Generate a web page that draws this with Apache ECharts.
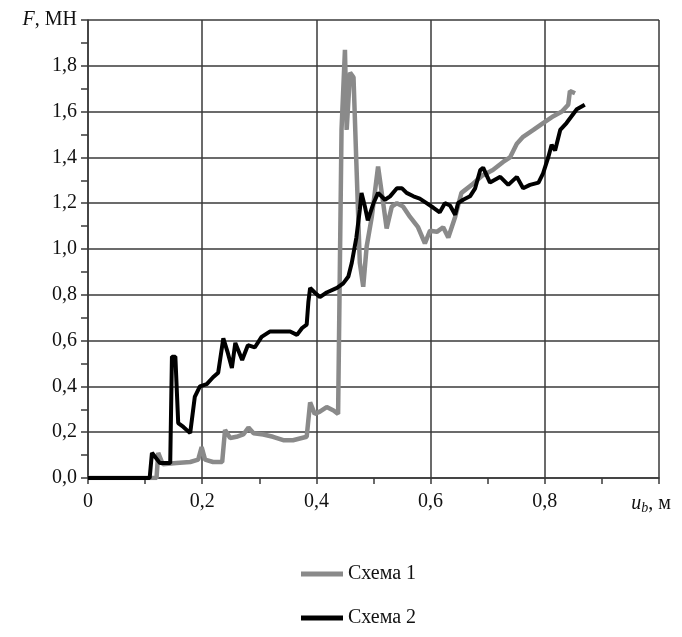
<!DOCTYPE html>
<html>
<head>
<meta charset="utf-8">
<script src="https://cdn.jsdelivr.net/npm/echarts@6/dist/echarts.min.js"></script>
<style>html,body{margin:0;padding:0;background:#fff}#c{width:682px;height:637px}</style>
</head>
<body>
<div id="c"></div>
<script>
// Схема 1 (gray)
const s1x = [0, 0.12, 0.123, 0.131, 0.155, 0.179, 0.193, 0.199, 0.205, 0.219, 0.235, 0.24, 0.249, 0.26, 0.272, 0.281, 0.29, 0.307, 0.324, 0.342, 0.359, 0.383, 0.389, 0.397, 0.406, 0.418, 0.43, 0.438, 0.441, 0.444, 0.45, 0.453, 0.459, 0.465, 0.47, 0.476, 0.482, 0.488, 0.497, 0.508, 0.517, 0.523, 0.532, 0.541, 0.552, 0.564, 0.578, 0.59, 0.599, 0.611, 0.622, 0.631, 0.643, 0.654, 0.672, 0.69, 0.709, 0.727, 0.739, 0.751, 0.762, 0.78, 0.797, 0.815, 0.83, 0.841, 0.844, 0.853];
const s1y = [0, 0, 0.11, 0.06, 0.065, 0.07, 0.08, 0.135, 0.08, 0.07, 0.07, 0.21, 0.175, 0.18, 0.19, 0.22, 0.195, 0.19, 0.18, 0.165, 0.165, 0.18, 0.33, 0.28, 0.29, 0.31, 0.295, 0.28, 0.9, 1.52, 1.87, 1.52, 1.77, 1.75, 1.375, 0.94, 0.835, 1.01, 1.14, 1.36, 1.2, 1.09, 1.185, 1.2, 1.185, 1.14, 1.095, 1.025, 1.08, 1.075, 1.095, 1.05, 1.14, 1.245, 1.28, 1.32, 1.345, 1.38, 1.4, 1.46, 1.49, 1.52, 1.55, 1.58, 1.6, 1.63, 1.69, 1.68];
// Схема 2 (black)
const s2x = [0, 0.108, 0.112, 0.126, 0.144, 0.147, 0.153, 0.158, 0.167, 0.179, 0.187, 0.196, 0.208, 0.219, 0.228, 0.237, 0.245, 0.252, 0.258, 0.27, 0.28, 0.292, 0.304, 0.319, 0.336, 0.354, 0.366, 0.375, 0.383, 0.386, 0.389, 0.397, 0.406, 0.418, 0.436, 0.447, 0.456, 0.462, 0.47, 0.476, 0.479, 0.485, 0.49, 0.5, 0.508, 0.52, 0.529, 0.541, 0.55, 0.558, 0.57, 0.581, 0.593, 0.605, 0.616, 0.625, 0.634, 0.643, 0.648, 0.657, 0.669, 0.678, 0.687, 0.692, 0.704, 0.722, 0.736, 0.751, 0.762, 0.774, 0.789, 0.797, 0.806, 0.812, 0.818, 0.827, 0.838, 0.856, 0.87];
const s2y = [0, 0, 0.11, 0.065, 0.065, 0.53, 0.53, 0.24, 0.223, 0.196, 0.354, 0.40, 0.41, 0.44, 0.46, 0.61, 0.545, 0.48, 0.59, 0.515, 0.58, 0.57, 0.616, 0.64, 0.64, 0.64, 0.625, 0.655, 0.67, 0.77, 0.83, 0.81, 0.79, 0.81, 0.83, 0.85, 0.88, 0.94, 1.05, 1.17, 1.245, 1.185, 1.125, 1.2, 1.245, 1.215, 1.23, 1.265, 1.265, 1.245, 1.23, 1.22, 1.2, 1.18, 1.16, 1.2, 1.19, 1.15, 1.2, 1.215, 1.23, 1.265, 1.345, 1.355, 1.29, 1.315, 1.28, 1.315, 1.265, 1.28, 1.29, 1.33, 1.4, 1.455, 1.43, 1.52, 1.55, 1.61, 1.63];
const seriesNames = ['Схема 1', 'Схема 2'];
const yAxisTitle = ['F', ', МН'];
const xAxisTitle = ['u', 'b', ', м'];

const FONT = '"Liberation Serif", "DejaVu Serif", serif';
const FS = 20;
const zip = (xs, ys) => xs.map((x, i) => [x, ys[i]]);
const lineCol = '#3a3a3a';

const chart = echarts.init(document.getElementById('c'));
chart.setOption({
  animation: false,
  backgroundColor: '#fff',
  grid: { left: 88, right: 23, top: 20, bottom: 159, containLabel: false },
  xAxis: {
    type: 'value', min: 0, max: 1, interval: 0.2,
    axisLine: { show: true, onZero: false, lineStyle: { color: lineCol, width: 1.5 } },
    axisTick: { show: true, inside: false, length: 6, lineStyle: { color: lineCol, width: 1.5 } },
    minorTick: { show: true, splitNumber: 2, length: 6, lineStyle: { color: lineCol, width: 1.5 } },
    splitLine: { show: true, lineStyle: { color: lineCol, width: 1.5 } },
    axisLabel: {
      margin: 14, color: '#111', fontFamily: FONT, fontSize: FS,
      formatter: v => {
        if (Math.abs(v - 1) < 1e-9) return '{i|' + xAxisTitle[0] + '}{s|' + xAxisTitle[1] + '}{n|' + xAxisTitle[2] + '}';
        if (v === 0) return '0';
        return v.toFixed(1).replace('.', ',');
      },
      rich: {
        i: { fontFamily: FONT, fontSize: FS, fontStyle: 'italic', color: '#111' },
        s: { fontFamily: FONT, fontSize: 14, fontStyle: 'italic', color: '#111', verticalAlign: 'bottom', padding: [9, 0, 0, 0] },
        n: { fontFamily: FONT, fontSize: FS, color: '#111', padding: [0, 16, 0, 0] }
      }
    }
  },
  yAxis: {
    type: 'value', min: 0, max: 2, interval: 0.2,
    axisLine: { show: true, lineStyle: { color: lineCol, width: 1.5 } },
    axisTick: { show: true, inside: false, length: 7, lineStyle: { color: lineCol, width: 1.5 } },
    minorTick: { show: true, splitNumber: 2, length: 7, lineStyle: { color: lineCol, width: 1.5 } },
    splitLine: { show: true, lineStyle: { color: lineCol, width: 1.5 } },
    axisLabel: {
      margin: 11, color: '#111', fontFamily: FONT, fontSize: FS,
      formatter: v => {
        if (Math.abs(v - 2) < 1e-9) return '{i|' + yAxisTitle[0] + '}{n|' + yAxisTitle[1] + '}';
        return v.toFixed(1).replace('.', ',');
      },
      rich: {
        i: { fontFamily: FONT, fontSize: FS, fontStyle: 'italic', color: '#111' },
        n: { fontFamily: FONT, fontSize: FS, color: '#111' }
      }
    }
  },
  legend: {
    orient: 'vertical', left: 301, top: 563, padding: 0,
    itemWidth: 42, itemHeight: 5, itemGap: 22,
    icon: 'rect',
    textStyle: { fontFamily: FONT, fontSize: FS, color: '#111', lineHeight: 22 },
    data: seriesNames
  },
  series: [
    { name: seriesNames[0], type: 'line', data: zip(s1x, s1y), showSymbol: false, symbol: 'none',
      lineStyle: { color: '#8a8a8a', width: 4.5 }, itemStyle: { color: '#8a8a8a' } },
    { name: seriesNames[1], type: 'line', data: zip(s2x, s2y), showSymbol: false, symbol: 'none',
      lineStyle: { color: '#000', width: 4 }, itemStyle: { color: '#000' } }
  ]
});
</script>
</body>
</html>
